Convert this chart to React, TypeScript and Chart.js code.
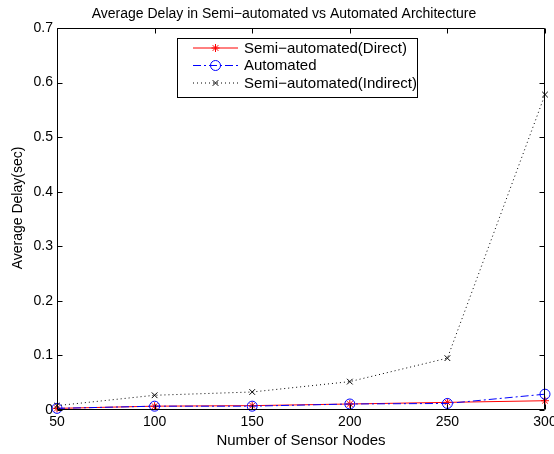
import React, { useEffect, useRef } from "react";
import { Chart, registerables } from "chart.js";

Chart.register(...registerables);

const sensorNodes = [50, 100, 150, 200, 250, 300];
const directDelay = [0.003, 0.007, 0.008, 0.011, 0.014, 0.017];
const automatedDelay = [0.003, 0.007, 0.007, 0.011, 0.012, 0.029];
const indirectDelay = [0.008, 0.027, 0.033, 0.052, 0.095, 0.578];

const titleText = "Average Delay in Semi\u2212automated vs Automated Architecture";
const xTitle = "Number of Sensor Nodes";
const yTitle = "Average Delay(sec)";
const legendLabels = ["Semi\u2212automated(Direct)", "Automated", "Semi\u2212automated(Indirect)"];

const FONT = '"Liberation Sans", Arial, Helvetica, sans-serif';
const FS = 14;

function drawMarker(ctx: CanvasRenderingContext2D, style: string, x: number, y: number, r: number, color: string) {
  ctx.save();
  ctx.strokeStyle = color;
  ctx.lineWidth = 1;
  ctx.setLineDash([]);
  ctx.beginPath();
  if (style === "circle") {
    ctx.arc(x, y, r, 0, Math.PI * 2);
  } else if (style === "crossRot") {
    const d = r * Math.SQRT1_2;
    ctx.moveTo(x - d, y - d); ctx.lineTo(x + d, y + d);
    ctx.moveTo(x - d, y + d); ctx.lineTo(x + d, y - d);
  } else if (style === "star") {
    ctx.moveTo(x - r, y); ctx.lineTo(x + r, y);
    ctx.moveTo(x, y - r); ctx.lineTo(x, y + r);
    const d = r * Math.SQRT1_2;
    ctx.moveTo(x - d, y - d); ctx.lineTo(x + d, y + d);
    ctx.moveTo(x - d, y + d); ctx.lineTo(x + d, y - d);
  }
  ctx.stroke();
  ctx.restore();
}

const boxPlugin = {
  id: "matlabBox",
  afterDatasetsDraw(chart: any) {
    const { ctx, chartArea, scales } = chart;
    const { left, right, top, bottom } = chartArea;
    const xs = scales.x;
    const ys = scales.y;
    ctx.save();
    ctx.strokeStyle = "#000";
    ctx.lineWidth = 1;
    ctx.setLineDash([]);
    const L = Math.round(left) + 0.5;
    const R = Math.round(right) - 0.5;
    const T = Math.round(top) + 0.5;
    const B = Math.round(bottom) - 0.5;
    ctx.beginPath();
    ctx.rect(L, T, R - L, B - T);
    ctx.stroke();
    const tl = 5;
    ctx.beginPath();
    xs.ticks.forEach((t: any) => {
      const px = Math.round(xs.getPixelForValue(t.value)) + 0.5;
      ctx.moveTo(px, B); ctx.lineTo(px, B - tl);
      ctx.moveTo(px, T); ctx.lineTo(px, T + tl);
    });
    ys.ticks.forEach((t: any) => {
      const py = Math.round(ys.getPixelForValue(t.value)) + 0.5;
      ctx.moveTo(L, py); ctx.lineTo(L + tl, py);
      ctx.moveTo(R, py); ctx.lineTo(R - tl, py);
    });
    ctx.stroke();

    // title
    ctx.fillStyle = "#000";
    ctx.font = FS + "px " + FONT;
    ctx.textAlign = "center";
    ctx.textBaseline = "middle";
    ctx.fillText(titleText, 284, 14);

    // y axis title
    ctx.save();
    ctx.translate(18, 208);
    ctx.rotate(-Math.PI / 2);
    ctx.fillText(yTitle, 0, 0);
    ctx.restore();

    // legend
    const lx = 177.5, ly = 38.5, lw = 240, lh = 59;
    ctx.fillStyle = "#fff";
    ctx.fillRect(lx, ly, lw, lh);
    ctx.strokeStyle = "#000";
    ctx.strokeRect(lx, ly, lw, lh);
    const rows = chart.data.datasets;
    rows.forEach((ds: any, i: number) => {
      const yy = 48 + i * 17.5;
      ctx.save();
      ctx.strokeStyle = ds.borderColor;
      ctx.lineWidth = ds.borderWidth;
      ctx.setLineDash(ds.borderDash || []);
      ctx.beginPath();
      ctx.moveTo(193, yy);
      ctx.lineTo(238, yy);
      ctx.stroke();
      ctx.restore();
      drawMarker(ctx, ds.pointStyle, 215.5, yy, ds.pointRadius, ds.borderColor);
      ctx.fillStyle = "#000";
      ctx.font = "15px " + FONT;
      ctx.textAlign = "left";
      ctx.textBaseline = "middle";
      ctx.fillText(legendLabels[i], 244, yy + 0.5);
    });
    ctx.restore();
  },
};

export default function App() {
  const ref = useRef<HTMLCanvasElement | null>(null);
  useEffect(() => {
    document.body.style.margin = "0";
    const canvas = ref.current!;
    const chart = new Chart(canvas, {
      type: "line",
      data: {
        datasets: [
          {
            label: legendLabels[0],
            data: sensorNodes.map((x, i) => ({ x, y: directDelay[i] })),
            borderColor: "#ff0000",
            backgroundColor: "#ff0000",
            borderWidth: 1,
            pointStyle: "star",
            pointRadius: 4,
            pointBorderWidth: 1,
            fill: false,
            clip: false as any,
            order: 2,
          },
          {
            label: legendLabels[1],
            data: sensorNodes.map((x, i) => ({ x, y: automatedDelay[i] })),
            borderColor: "#0000ff",
            backgroundColor: "rgba(0,0,0,0)",
            borderWidth: 1,
            borderDash: [8, 3, 2, 3],
            pointStyle: "circle",
            pointRadius: 5,
            pointBorderWidth: 1,
            fill: false,
            clip: false as any,
            order: 1,
          },
          {
            label: legendLabels[2],
            data: sensorNodes.map((x, i) => ({ x, y: indirectDelay[i] })),
            borderColor: "#000000",
            backgroundColor: "#000000",
            borderWidth: 1,
            borderDash: [1, 3],
            pointStyle: "crossRot",
            pointRadius: 4,
            pointBorderWidth: 1,
            fill: false,
            clip: false as any,
            order: 0,
          },
        ],
      },
      options: {
        animation: false,
        responsive: false,
        devicePixelRatio: 1,
        layout: { padding: { top: 28, right: 9, left: 0, bottom: 0 } },
        plugins: { legend: { display: false }, title: { display: false }, tooltip: { enabled: false } },
        elements: { line: { tension: 0 } },
        scales: {
          x: {
            type: "linear",
            min: 50,
            max: 300,
            border: { display: false },
            grid: { display: false, drawTicks: false },
            ticks: { stepSize: 50, padding: 4, color: "#000", font: { family: FONT, size: FS }, maxRotation: 0 },
            title: { display: true, text: xTitle, color: "#000", font: { family: FONT, size: 15 }, padding: { top: 0, bottom: 4 } },
            afterFit(scale: any) {
              scale.height = 44;
              scale.paddingLeft = 0;
              scale.paddingRight = 0;
            },
          },
          y: {
            type: "linear",
            min: 0,
            max: 0.7,
            border: { display: false },
            grid: { display: false, drawTicks: false },
            ticks: {
              stepSize: 0.1,
              padding: 4,
              color: "#000",
              font: { family: FONT, size: FS },
              callback: (v: any) => (Math.abs(v) < 1e-9 ? "0" : Number(v).toFixed(1)),
            },
            afterFit(scale: any) {
              scale.width = 57;
              scale.paddingTop = 0;
              scale.paddingBottom = 0;
            },
          },
        },
      },
      plugins: [boxPlugin],
    } as any);
    return () => chart.destroy();
  }, []);
  return <canvas ref={ref} width={554} height={454} style={{ display: "block" }} />;
}
